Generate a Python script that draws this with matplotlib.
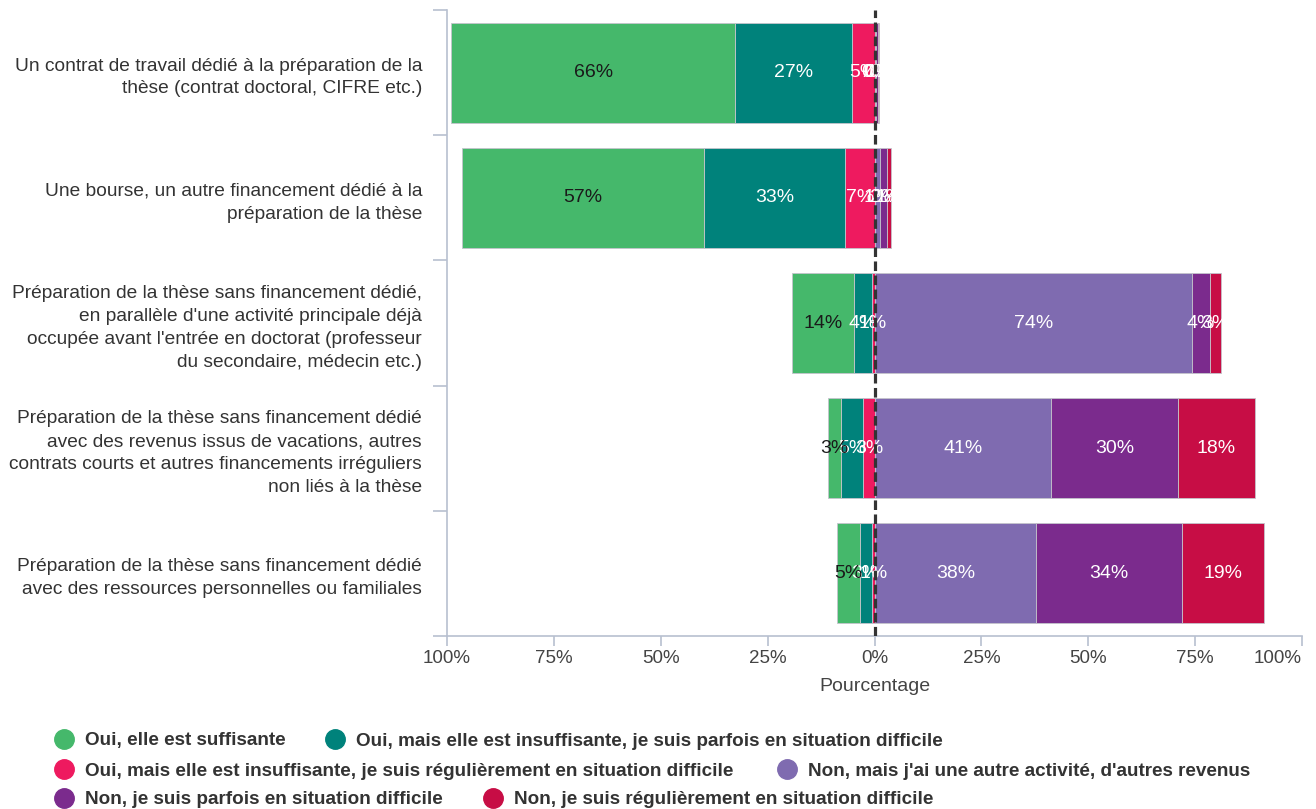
import numpy as np
import matplotlib.pyplot as plt
from matplotlib.lines import Line2D

plt.rcParams['font.family'] = ['Liberation Sans', 'DejaVu Sans']

categories = [
    "Un contrat de travail dédié à la préparation de la\nthèse (contrat doctoral, CIFRE etc.)",
    "Une bourse, un autre financement dédié à la\npréparation de la thèse",
    "Préparation de la thèse sans financement dédié,\nen parallèle d'une activité principale déjà\noccupée avant l'entrée en doctorat (professeur\ndu secondaire, médecin etc.)",
    "Préparation de la thèse sans financement dédié\navec des revenus issus de vacations, autres\ncontrats courts et autres financements irréguliers\nnon liés à la thèse",
    "Préparation de la thèse sans financement dédié\navec des ressources personnelles ou familiales",
]

responses = [
    "Oui, elle est suffisante",
    "Oui, mais elle est insuffisante, je suis parfois en situation difficile",
    "Oui, mais elle est insuffisante, je suis régulièrement en situation difficile",
    "Non, mais j'ai une autre activité, d'autres revenus",
    "Non, je suis parfois en situation difficile",
    "Non, je suis régulièrement en situation difficile",
]
colors = ['#45b86b', '#00827b', '#ee1a5f', '#7f6bb0', '#7b2b8d', '#c70d45']
label_colors = ['#1a1a1a', 'white', 'white', 'white', 'white', 'white']

# percentages per category (rows) and response (columns)
oui_suffisante = [66.4, 56.6, 14.3, 3.0, 5.3]
oui_parfois = [27.4, 33.1, 4.2, 5.3, 2.9]
oui_regulier = [5.2, 6.8, 0.7, 2.6, 0.6]
non_autre = [0.4, 1.4, 74.3, 41.3, 37.8]
non_parfois = [0.4, 1.6, 4.1, 29.6, 34.1]
non_regulier = [0.2, 0.9, 2.6, 18.2, 19.3]

left_series = [oui_suffisante, oui_parfois, oui_regulier]
right_series = [non_autre, non_parfois, non_regulier]

fig = plt.figure(figsize=(13.16, 8.09), dpi=100)
ax = fig.add_axes([447 / 1316, 1 - 636 / 809, 855 / 1316, 626 / 809])

y = np.arange(len(categories))
h = 0.8
edge = '#c4c4cc'
seg_fs = 14

# left side: stack outward from zero, pink nearest zero
start = np.zeros(len(categories))
for i in [2, 1, 0]:
    vals = np.array(left_series[i])
    ax.barh(y, -vals, left=-start, height=h, color=colors[i], edgecolor=edge, linewidth=0.6)
    for yi, v, s in zip(y, vals, start):
        ax.text(-(s + v / 2), yi, f"{v:.0f}%", ha='center', va='center',
                color=label_colors[i], fontsize=seg_fs)
    start = start + vals

start = np.zeros(len(categories))
for j, vals in enumerate(right_series):
    vals = np.array(vals)
    k = 3 + j
    ax.barh(y, vals, left=start, height=h, color=colors[k], edgecolor=edge, linewidth=0.6)
    for yi, v, s in zip(y, vals, start):
        ax.text(s + v / 2, yi, f"{v:.0f}%", ha='center', va='center',
                color=label_colors[k], fontsize=seg_fs)
    start = start + vals

ax.axvline(0, color='#333333', linewidth=2.3, linestyle=(0, (3, 1.4)), zorder=5)

ax.set_xlim(-100, 100)
ax.set_ylim(len(categories) - 0.5, -0.5)
ticks = [-100, -75, -50, -25, 0, 25, 50, 75, 100]
ax.set_xticks(ticks)
ax.set_xticklabels([f"{abs(t)}%" for t in ticks])
ax.get_xticklabels()[-1].set_horizontalalignment('right')
ax.set_yticks(y)
ax.set_yticklabels(categories, fontsize=13.8, color='#333333', linespacing=1.45)
ax.set_yticks(np.arange(-0.5, len(categories)), minor=True)
ax.tick_params(axis='y', which='major', length=0, pad=18)
ax.tick_params(axis='y', which='minor', length=10, color='#b8c0d0', width=1.2)
ax.tick_params(axis='x', length=7, color='#b8c0d0', width=1.2, labelsize=13.5,
               labelcolor='#444444', pad=3)
ax.set_xlabel('Pourcentage', fontsize=14, color='#444444', labelpad=8)

for side in ['top', 'right']:
    ax.spines[side].set_visible(False)
for side in ['left', 'bottom']:
    ax.spines[side].set_color('#b8c0d0')
    ax.spines[side].set_linewidth(1.2)

# legend, flowing rows
legend_rows = [
    [(0, 64), (1, 335)],
    [(2, 64), (3, 787)],
    [(4, 64), (5, 493)],
]
row_y = [739, 769, 798]
for row, yy in zip(legend_rows, row_y):
    for k, xx in row:
        fy = 1 - yy / 809
        fig.add_artist(Line2D([xx / 1316], [fy], marker='o', markersize=14,
                              color=colors[k], linestyle='none',
                              transform=fig.transFigure))
        fig.text((xx + 21) / 1316, fy, responses[k], ha='left', va='center_baseline',
                 fontsize=13.6, fontweight='bold', color='#333333')

fig.savefig('out.png', dpi=100)
